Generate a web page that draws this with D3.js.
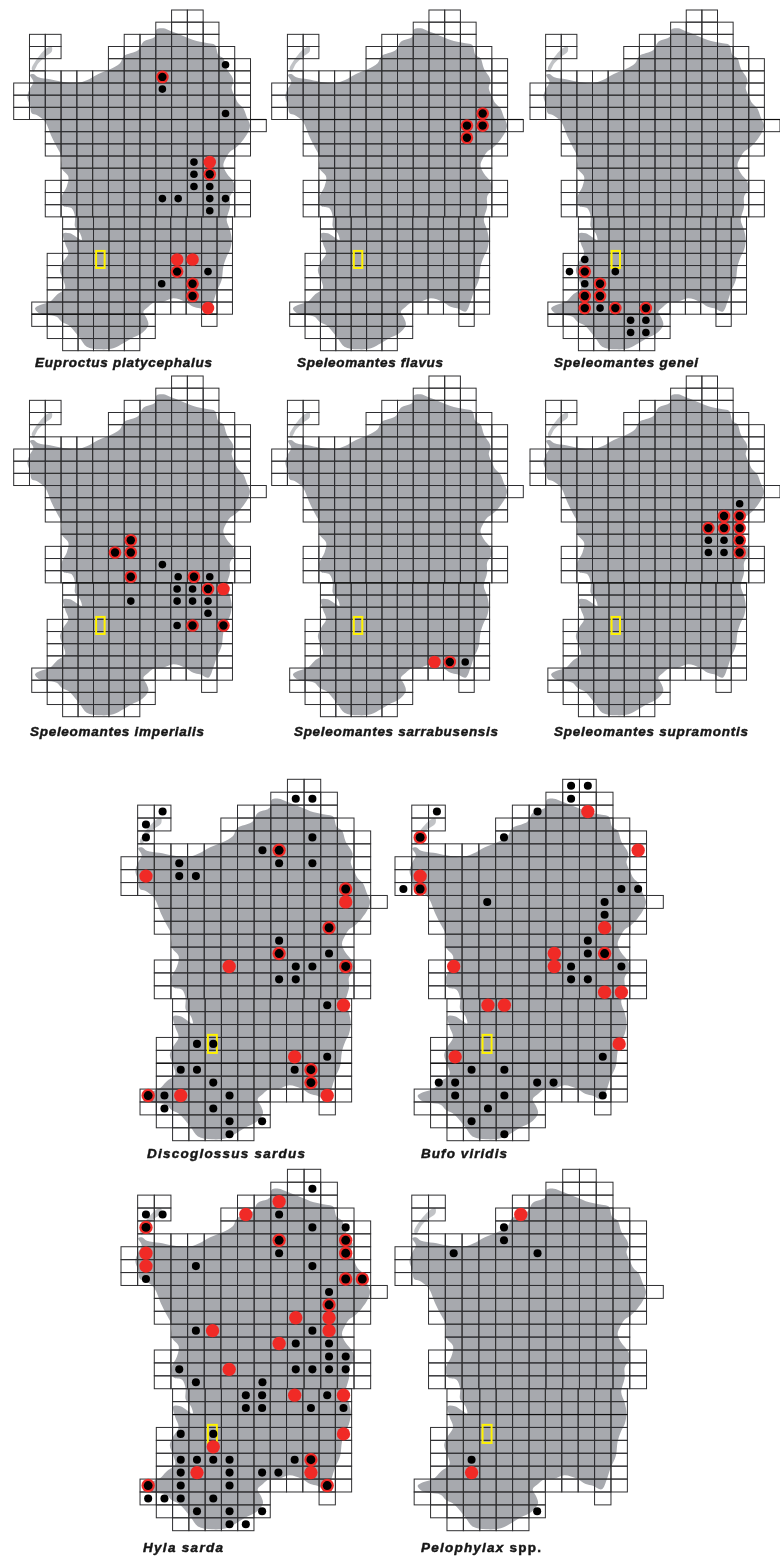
<!DOCTYPE html>
<html>
<head>
<meta charset="utf-8">
<script src="https://cdn.jsdelivr.net/npm/d3@7"></script>
<style>
  html, body { margin: 0; padding: 0; background: #fff; }
  text { font-family: "Liberation Sans", Arial, sans-serif; font-weight: bold; font-style: italic; fill: #161616; stroke: #161616; stroke-width: 0.45px; }
</style>
</head>
<body>
<div id="chart"></div>
<script>
// grid spans per row: [first column, last column], rows counted from the north
const gridRows = [
  [[10, 11]], [[9, 12]], [[1, 2], [7, 12]], [[1, 2], [6, 13]], [[1, 1], [6, 14]],
  [[1, 14]], [[0, 14]], [[0, 14]], [[0, 14]], [[2, 15]],
  [[2, 14]], [[2, 14]], [[3, 13]], [[3, 13]], [[2, 14]],
  [[2, 14]], [[2, 14]], [[3, 13]], [[3, 13]], [[3, 13]],
  [[2, 13]], [[2, 13]], [[2, 13]], [[2, 13]], [[1, 13]],
  [[1, 8], [12, 12]], [[2, 8]], [[3, 7]]
];

// island outline, traced in the units of the first map's crop
const landOutline = [
  [100,222],[115,232],[150,238],[185,245],[230,250],[262,240],[295,222],[330,208],[360,190],[372,168],
  [415,150],[430,125],[465,110],[470,88],[490,85],[510,92],[530,100],[555,110],[580,120],[600,125],
  [625,130],[645,135],[655,165],[670,175],[680,205],[700,240],[695,265],[705,290],[715,310],[730,325],
  [740,350],[750,375],[745,395],[725,425],[705,445],[690,455],[680,470],[670,495],[680,520],[700,545],
  [705,565],[690,590],[690,620],[680,660],[690,690],[695,720],[690,750],[680,770],[670,800],[665,840],
  [650,875],[640,905],[625,935],[600,925],[580,920],[555,905],[520,895],[490,905],[465,905],[445,920],
  [430,935],[440,955],[445,975],[425,1000],[395,1015],[370,1030],[340,1045],[300,1048],[260,1040],[240,1015],
  [220,990],[205,975],[185,965],[170,950],[140,945],[115,938],[105,925],[120,915],[150,905],[170,885],
  [195,865],[190,840],[180,810],[190,785],[205,760],[195,730],[190,700],[210,700],[245,720],[240,700],
  [225,680],[225,650],[215,625],[190,618],[185,590],[200,560],[205,530],[185,505],[185,470],[170,440],
  [155,410],[135,365],[110,345],[95,340],[90,315],[82,290],[90,265],[100,245],[90,225]
];
const asinaraOutline = [
  [155,140],[140,145],[120,165],[105,185],[95,205],[100,215],[115,190],[135,170],[155,155]
];
const outlineDomainX = [41, 799];
const outlineDomainY = [30, 1052];

// the small reference square, in grid units: col from, col to, row from, row to
const referenceBox = [5.22, 5.76, 19.8, 21.2];

// records per species: [col, row, kind], b = black, o = black on red, r = red
const euproctus = [
  [13,4,"b"],[9,5,"o"],[9,6,"b"],[13,8,"b"],[11,12,"b"],[12,12,"r"],[11,13,"b"],[12,13,"o"],[11,14,"b"],[12,14,"b"],
  [9,15,"b"],[10,15,"b"],[12,15,"b"],[13,15,"b"],[12,16,"b"],[10,20,"r"],[11,20,"r"],[10,21,"o"],[12,21,"b"],
  [9,22,"b"],[11,22,"o"],[11,23,"o"],[12,24,"r"]
];
const flavus = [[13,8,"o"],[12,9,"o"],[13,9,"o"],[12,10,"o"]];
const genei = [
  [3,20,"b"],[2,21,"b"],[3,21,"o"],[5,21,"b"],[3,22,"b"],[4,22,"o"],[3,23,"o"],[4,23,"o"],[3,24,"o"],[4,24,"b"],
  [5,24,"o"],[7,24,"o"],[6,25,"b"],[7,25,"b"],[6,26,"b"],[7,26,"b"]
];
const imperialis = [
  [7,13,"o"],[6,14,"o"],[7,14,"o"],[9,15,"b"],[7,16,"o"],[10,16,"b"],[11,16,"o"],[12,16,"b"],[10,17,"b"],[11,17,"b"],
  [12,17,"o"],[13,17,"r"],[7,18,"b"],[10,18,"b"],[11,18,"b"],[12,18,"b"],[12,19,"b"],[10,20,"b"],[11,20,"o"],[13,20,"o"]
];
const sarrabusensis = [[10,23,"r"],[11,23,"o"],[12,23,"b"]];
const supramontis = [
  [13,10,"b"],[12,11,"o"],[13,11,"o"],[11,12,"o"],[12,12,"o"],[13,12,"o"],[11,13,"b"],[12,13,"b"],[13,13,"o"],
  [11,14,"b"],[12,14,"b"],[13,14,"o"]
];
const discoglossus = [
  [10,1,"b"],[11,1,"b"],[2,2,"b"],[1,3,"b"],[1,4,"b"],[11,4,"b"],[8,5,"b"],[9,5,"o"],[3,6,"b"],[9,6,"b"],[11,6,"b"],
  [1,7,"r"],[3,7,"b"],[4,7,"b"],[13,8,"o"],[13,9,"r"],[12,11,"o"],[9,12,"b"],[9,13,"o"],[12,13,"b"],[6,14,"r"],
  [10,14,"b"],[11,14,"b"],[13,14,"o"],[9,15,"b"],[10,15,"b"],[12,17,"b"],[13,17,"r"],[4,20,"b"],[5,20,"b"],
  [10,21,"r"],[12,21,"b"],[3,22,"b"],[4,22,"b"],[10,22,"b"],[11,22,"o"],[5,23,"b"],[11,23,"o"],[1,24,"o"],[2,24,"b"],
  [3,24,"r"],[6,24,"b"],[12,24,"r"],[2,25,"b"],[5,25,"b"],[6,26,"b"],[8,26,"b"],[6,27,"b"]
];
const bufo = [
  [10,0,"b"],[11,0,"b"],[10,1,"b"],[2,2,"b"],[8,2,"b"],[11,2,"r"],[1,4,"o"],[6,4,"b"],[14,5,"r"],[1,7,"r"],[0,8,"b"],
  [1,8,"o"],[13,8,"b"],[14,8,"b"],[5,9,"b"],[12,9,"b"],[12,10,"b"],[12,11,"r"],[11,12,"b"],[9,13,"r"],[11,13,"b"],
  [12,13,"o"],[3,14,"r"],[9,14,"r"],[10,14,"b"],[13,14,"b"],[10,15,"b"],[11,15,"b"],[12,16,"r"],[13,16,"r"],
  [5,17,"r"],[6,17,"r"],[13,20,"r"],[3,21,"r"],[12,21,"b"],[4,22,"b"],[6,22,"b"],[2,23,"b"],[3,23,"b"],[8,23,"b"],
  [9,23,"b"],[3,24,"b"],[6,24,"b"],[12,24,"b"],[5,25,"b"],[4,26,"b"],[6,27,"b"]
];
const hyla = [
  [11,1,"b"],[9,2,"r"],[1,3,"b"],[2,3,"b"],[7,3,"r"],[9,3,"b"],[1,4,"o"],[11,4,"b"],[13,4,"b"],[9,5,"o"],[13,5,"o"],
  [1,6,"r"],[9,6,"b"],[13,6,"o"],[1,7,"r"],[4,7,"b"],[11,7,"b"],[1,8,"b"],[13,8,"o"],[14,8,"o"],[12,9,"b"],[12,10,"o"],
  [10,11,"r"],[12,11,"r"],[4,12,"b"],[5,12,"r"],[11,12,"b"],[12,12,"r"],[9,13,"r"],[10,13,"b"],[12,13,"b"],[12,14,"b"],
  [13,14,"b"],[3,15,"b"],[6,15,"r"],[10,15,"b"],[11,15,"b"],[12,15,"b"],[13,15,"b"],[4,16,"b"],[8,16,"b"],[7,17,"b"],
  [8,17,"b"],[10,17,"r"],[12,17,"b"],[13,17,"r"],[7,18,"b"],[8,18,"b"],[11,18,"b"],[13,18,"b"],[3,20,"b"],[5,20,"b"],
  [13,20,"r"],[5,21,"r"],[3,22,"b"],[4,22,"b"],[5,22,"b"],[6,22,"b"],[10,22,"b"],[11,22,"o"],[3,23,"b"],[4,23,"r"],
  [6,23,"b"],[8,23,"b"],[9,23,"b"],[11,23,"r"],[1,24,"o"],[3,24,"b"],[6,24,"b"],[12,24,"o"],[1,25,"b"],[2,25,"b"],
  [3,25,"b"],[5,25,"b"],[4,26,"b"],[6,26,"b"],[8,26,"b"],[6,27,"b"],[7,27,"b"]
];
const pelophylax = [[7,3,"r"],[6,4,"b"],[6,5,"b"],[3,6,"b"],[8,6,"b"],[4,22,"b"],[4,23,"r"],[8,26,"b"]];

const speciesRecords = [euproctus, flavus, genei, imperialis, sarrabusensis, supramontis, discoglossus, bufo, hyla, pelophylax];
const speciesNames = [
  "Euproctus platycephalus", "Speleomantes flavus", "Speleomantes genei",
  "Speleomantes imperialis", "Speleomantes sarrabusensis", "Speleomantes supramontis",
  "Discoglossus sardus", "Bufo viridis", "Hyla sarda", "Pelophylax"
];

// page layout of the ten maps; heavy = rows whose top edge prints darker
const panels = [
  { x0: 13.7, x1: 266.3, y0: 10, y1: 350.7, dot: -1.3, r: 1, heavy: [9, 25], lx: 35, lw: 177, ly: 367 },
  { x0: 271.7, x1: 523.3, y0: 10, y1: 350.7, dot: -1.3, r: 1, heavy: [9, 25], lx: 297, lw: 146, ly: 367 },
  { x0: 530, x1: 780, y0: 10, y1: 350.7, dot: -1.3, r: 1, heavy: [9, 25], lx: 554, lw: 144, ly: 367 },
  { x0: 13.7, x1: 266.3, y0: 376, y1: 716.7, dot: -1.3, r: 1, heavy: [17], lx: 30, lw: 174, ly: 736 },
  { x0: 271.7, x1: 523.3, y0: 376, y1: 716.7, dot: -1.3, r: 1, heavy: [17], lx: 294, lw: 204, ly: 736 },
  { x0: 530, x1: 780, y0: 376, y1: 716.7, dot: -1.3, r: 1, heavy: [17], lx: 554, lw: 194, ly: 736 },
  { x0: 121, x1: 387.3, y0: 779.3, y1: 1140.7, dot: 0, r: 1.06, heavy: [22], lx: 147, lw: 158, ly: 1158 },
  { x0: 395, x1: 663.3, y0: 779.3, y1: 1140.7, dot: 0, r: 1.06, heavy: [22], lx: 421, lw: 86, ly: 1158 },
  { x0: 121, x1: 387.3, y0: 1169.3, y1: 1530.7, dot: 0, r: 1.06, heavy: [19], lx: 143, lw: 80, ly: 1552 },
  { x0: 395, x1: 663.3, y0: 1169.3, y1: 1530.7, dot: 0, r: 1.06, heavy: [19], lx: 421, lw: 120, ly: 1552 }
];

const svg = d3.select("#chart").append("svg")
  .attr("width", 780)
  .attr("height", 1563)
  .style("display", "block");

svg.append("defs").append("filter")
  .attr("id", "soft")
  .attr("filterUnits", "userSpaceOnUse")
  .attr("x", 0).attr("y", 0).attr("width", 780).attr("height", 1563)
  .append("feGaussianBlur")
  .attr("stdDeviation", 0.7);

const page = svg.append("g").attr("filter", "url(#soft)");
page.append("rect").attr("width", 780).attr("height", 1563).attr("fill", "#fff");

function drawMap(p, records, name) {
  const g = page.append("g");
  const x = d3.scaleLinear().domain([0, 16]).range([p.x0, p.x1]);
  const y = d3.scaleLinear().domain([0, 28]).range([p.y0, p.y1]);
  const outlineX = d3.scaleLinear().domain(outlineDomainX).range([p.x0, p.x1]);
  const outlineY = d3.scaleLinear().domain(outlineDomainY).range([p.y0, p.y1]);

  // the southern rows are drawn slightly narrower, as in the source map
  const colX = (c, r) => (r >= 17 ? x(7.5 + (c - 7.5) * 0.978) : x(c));

  const line = d3.line().x(d => outlineX(d[0])).y(d => outlineY(d[1])).curve(d3.curveCatmullRomClosed);
  g.selectAll("path.land")
    .data([landOutline, asinaraOutline])
    .join("path")
    .attr("class", "land")
    .attr("d", line)
    .attr("fill", "#a7a9ae")
    .attr("opacity", d => (d === asinaraOutline ? 0.7 : 1));

  const cells = [];
  gridRows.forEach((spans, r) => {
    spans.forEach(([from, to]) => {
      d3.range(from, to + 1).forEach(c => cells.push({ c, r }));
    });
  });

  g.selectAll("rect.cell")
    .data(cells)
    .join("rect")
    .attr("class", "cell")
    .attr("x", d => colX(d.c, d.r))
    .attr("y", d => y(d.r))
    .attr("width", d => colX(d.c + 1, d.r) - colX(d.c, d.r))
    .attr("height", d => y(d.r + 1) - y(d.r))
    .attr("fill", "none")
    .attr("stroke", "#2f2f31")
    .attr("stroke-width", 1);

  g.selectAll("line.heavy")
    .data(cells.filter(d => p.heavy.includes(d.r)))
    .join("line")
    .attr("class", "heavy")
    .attr("x1", d => colX(d.c, d.r))
    .attr("x2", d => colX(d.c + 1, d.r))
    .attr("y1", d => y(d.r))
    .attr("y2", d => y(d.r))
    .attr("stroke", "#111")
    .attr("stroke-width", 1.2);

  g.append("rect")
    .attr("x", x(referenceBox[0]))
    .attr("y", y(referenceBox[2]))
    .attr("width", x(referenceBox[1]) - x(referenceBox[0]))
    .attr("height", y(referenceBox[3]) - y(referenceBox[2]))
    .attr("fill", "none")
    .attr("stroke", "#fff200")
    .attr("stroke-width", 2);

  const dotX = d => colX(d[0] + 0.5, d[1]) + p.dot;
  const dotY = d => y(d[1] + 0.5);

  g.selectAll("circle.red")
    .data(records.filter(d => d[2] !== "b"))
    .join("circle")
    .attr("class", "red")
    .attr("cx", dotX)
    .attr("cy", dotY)
    .attr("r", 6.3 * p.r)
    .attr("fill", "#f02a28");

  g.selectAll("circle.black")
    .data(records.filter(d => d[2] !== "r"))
    .join("circle")
    .attr("class", "black")
    .attr("cx", dotX)
    .attr("cy", dotY)
    .attr("r", d => (d[2] === "o" ? 4.2 : 3.8) * p.r)
    .attr("fill", "#000");

  const label = g.append("text")
    .attr("x", p.lx)
    .attr("y", p.ly)
    .attr("font-size", 13.5)
    .attr("textLength", p.lw)
    .attr("lengthAdjust", "spacing")
    .text(name);
  if (name === "Pelophylax") {
    label.append("tspan").style("font-style", "normal").text(" spp.");
  }
}

panels.forEach((p, i) => drawMap(p, speciesRecords[i], speciesNames[i]));
</script>
</body>
</html>
